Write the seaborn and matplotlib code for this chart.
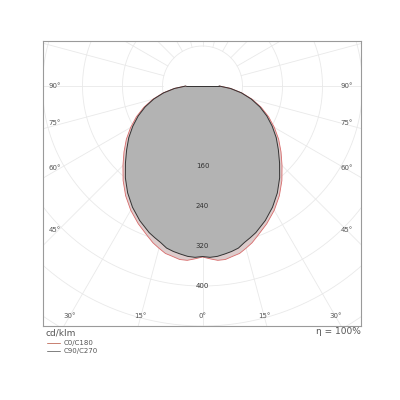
import numpy as np
import pandas as pd
import matplotlib
matplotlib.use("Agg")
import matplotlib.pyplot as plt
import seaborn as sns

# ---- data (cd/klm), gamma angle from nadir ----
angles = [0, 2.5, 5, 7.5, 10, 12.5, 15, 17.5, 20, 25, 30, 35, 40, 45, 50, 55, 60, 65, 70, 75, 80, 85, 90]
c0_c180 = [342, 346, 350, 350, 346, 343, 336, 329, 320, 304, 287, 268, 247, 225, 205, 186, 166, 146, 125, 103, 80, 57, 34]
c90_c270 = [341, 343, 342, 339, 336, 332, 324, 318, 312, 297, 280, 261, 240, 218, 198, 180, 161, 142, 122, 101, 79, 56, 33]
ring_values = [80, 160, 240, 320, 400, 480, 560, 640]
ring_labels = [160, 240, 320, 400]
side_angle_labels = [90, 75, 60, 45]
bottom_angle_labels = [30, 15, 0]
series_names = ["C0/C180", "C90/C270"]
unit_label = "cd/klm"
eta_label = "η = 100%"

sns.set_style("white")
plt.rcParams['font.family'] = ['DejaVu Sans']

fig = plt.figure(figsize=(4, 4), dpi=100)
ax = fig.add_axes([43/400, 1-326/400, 318/400, 285/400])
ax.set_xlim(-319, 317)
ax.set_ylim(-480, 90)
ax.set_aspect('auto')

grid_c = '#e9e9e9'
t = np.linspace(0, 2*np.pi, 400)
for r in ring_values:
    ax.plot(r*np.cos(t), r*np.sin(t), color=grid_c, lw=0.6, zorder=1)
for a in range(0, 360, 15):
    th = np.deg2rad(a)
    ax.plot([80*np.sin(th), 900*np.sin(th)], [-80*np.cos(th), -900*np.cos(th)],
            color=grid_c, lw=0.6, zorder=1)

def to_xy(vals):
    ang = np.deg2rad(np.array(angles, float))
    v = np.array(vals, float)
    full_ang = np.concatenate([-ang[::-1], ang[1:]])
    full_v = np.concatenate([v[::-1], v[1:]])
    return pd.DataFrame({"x": full_v*np.sin(full_ang), "y": -full_v*np.cos(full_ang)})

d0 = to_xy(c0_c180)
d90 = to_xy(c90_c270)
ax.fill(d0.x, d0.y, color='#dccaca', alpha=0.95, zorder=2, lw=0)
ax.fill(d90.x, d90.y, color='#b3b3b3', alpha=1.0, zorder=3, lw=0)
sns.lineplot(data=d0, x="x", y="y", sort=False, estimator=None, ax=ax,
             color='#d86a6a', lw=0.6, zorder=4)
sns.lineplot(data=d90, x="x", y="y", sort=False, estimator=None, ax=ax,
             color='#333333', lw=0.7, zorder=5)
# closing top segments
ax.plot([d0.x.iloc[0], d0.x.iloc[-1]], [d0.y.iloc[0], d0.y.iloc[-1]], color='#d86a6a', lw=0.6, zorder=4)
ax.plot([d90.x.iloc[0], d90.x.iloc[-1]], [d90.y.iloc[0], d90.y.iloc[-1]], color='#333333', lw=0.7, zorder=5)

tc = '#555555'
for r in ring_labels:
    ax.text(0, -r, str(r), ha='center', va='center', fontsize=5, color='#333333', zorder=6)

for a in side_angle_labels:
    th = np.deg2rad(a)
    y = -295/np.tan(th) + 6 if a != 90 else 0
    ax.text(-295, y, f"{a}°", ha='center', va='center', fontsize=5, color=tc, zorder=6)
    ax.text(288, y, f"{a}°", ha='center', va='center', fontsize=5, color=tc, zorder=6)
for a in bottom_angle_labels:
    x = 460*np.tan(np.deg2rad(a))
    ax.text(-x, -460, f"{a}°", ha='center', va='center', fontsize=5, color=tc, zorder=6)
    if a != 0:
        ax.text(x, -460, f"{a}°", ha='center', va='center', fontsize=5, color=tc, zorder=6)

ax.set_xticks([]); ax.set_yticks([])
ax.set_xlabel(""); ax.set_ylabel("")
for s in ax.spines.values():
    s.set_color('#9a9a9a'); s.set_linewidth(0.8)
if ax.get_legend():
    ax.get_legend().remove()

fig.text(45/400, 1-333/400, unit_label, ha='left', va='center', fontsize=6.5, color=tc)
fig.text(361/400, 1-331/400, eta_label, ha='right', va='center', fontsize=6.5, color=tc)
leg_cols = ['#c88070', '#808080']
for i, (nm, c) in enumerate(zip(series_names, leg_cols)):
    yy = 1 - (343.3 + 7.7*i)/400
    fig.add_artist(plt.Line2D([47/400, 60/400], [yy, yy], color=c, lw=0.7))
    fig.text(64/400, yy, nm, ha='left', va='center', fontsize=5, color=tc)

fig.savefig("out.png", dpi=100)
